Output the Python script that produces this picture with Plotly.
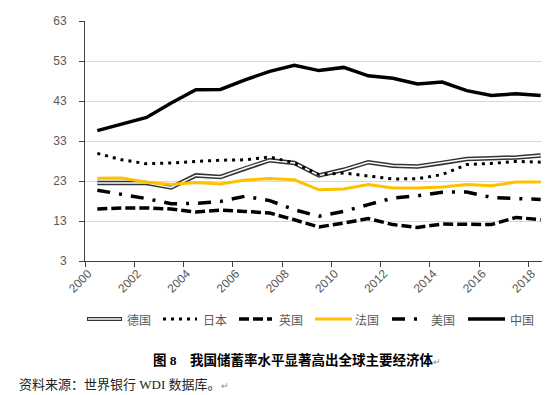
import plotly.graph_objects as go

years = list(range(2000, 2019))
germany = [22.5, 22.5, 22.5, 21.4, 24.4, 24.0, 26.2, 28.2, 27.5, 24.4, 25.8, 27.7, 26.8, 26.6, 27.5, 28.5, 28.7, 28.9, 29.4]
japan = [29.9, 28.3, 27.3, 27.5, 27.9, 28.2, 28.3, 29.0, 27.5, 24.6, 25.0, 24.2, 23.5, 23.6, 24.6, 27.1, 27.4, 27.9, 27.7]
uk = [16.0, 16.25, 16.25, 16.0, 15.25, 15.7, 15.4, 15.0, 13.3, 11.5, 12.5, 13.6, 12.1, 11.4, 12.25, 12.25, 12.1, 13.9, 13.3]
france = [23.7, 23.75, 22.7, 22.1, 22.6, 22.25, 23.25, 23.6, 23.3, 20.8, 21.0, 22.1, 21.25, 21.25, 21.5, 22.1, 21.8, 22.75, 22.75]
usa = [20.7, 19.75, 18.6, 17.3, 17.4, 17.9, 19.2, 18.1, 15.8, 14.2, 15.4, 17.1, 18.75, 19.3, 20.2, 20.25, 18.9, 18.6, 18.4]
china = [35.6, 37.25, 38.9, 42.5, 45.8, 45.9, 48.3, 50.4, 51.9, 50.6, 51.4, 49.3, 48.7, 47.25, 47.75, 45.6, 44.4, 44.8, 44.4]
names = ["德国", "日本", "英国", "法国", "美国", "中国"]
y_ticks = [3, 13, 23, 33, 43, 53, 63]
x_ticks = list(range(2000, 2019, 2))

W, H = 550, 395
L, R, T, B = 77, 545, 13, 253

GRAY = "#595959"
FONT = "Noto Sans CJK SC"
SERIF = "Liberation Serif, Noto Sans CJK SC"

styles = {
    "日本": dict(color="black", width=3, dash="3px,5px"),
    "英国": dict(color="black", width=3.5, dash="10px,4px"),
    "法国": dict(color="#FFC000", width=3, dash="solid"),
    "美国": dict(color="black", width=3.5, dash="13px,9px,3px,9px"),
    "中国": dict(color="black", width=3.5, dash="solid"),
}
series = {"德国": germany, "日本": japan, "英国": uk, "法国": france, "美国": usa, "中国": china}

fig = go.Figure()
# Germany double line
fig.add_trace(go.Scatter(x=years, y=germany, mode="lines", line=dict(color="#333333", width=4.5), showlegend=False, hoverinfo="skip"))
fig.add_trace(go.Scatter(x=years, y=germany, mode="lines", line=dict(color="white", width=1.5), showlegend=False, hoverinfo="skip"))
for n in ["日本", "英国", "法国", "美国", "中国"]:
    fig.add_trace(go.Scatter(x=years, y=series[n], mode="lines", line=styles[n], showlegend=False, name=n))

def px_x(p):
    return (p - L) / (R - L)

def px_y(p):
    return (B - p) / (B - T)

shapes = []
annotations = []
legend_pos = [(79, 114, 117), (155, 189, 193), (231, 264, 269), (307, 344, 345), (384, 410, 421), (460, 497, 500)]
ly = 311
for n, (x0, x1, tx) in zip(names, legend_pos):
    if n == "德国":
        shapes.append(dict(type="line", xref="paper", yref="paper", x0=px_x(x0), x1=px_x(x1), y0=px_y(ly), y1=px_y(ly), line=dict(color="#333333", width=4)))
        shapes.append(dict(type="line", xref="paper", yref="paper", x0=px_x(x0 + 1), x1=px_x(x1 - 1), y0=px_y(ly), y1=px_y(ly), line=dict(color="white", width=1.3)))
    else:
        shapes.append(dict(type="line", xref="paper", yref="paper", x0=px_x(x0), x1=px_x(x1), y0=px_y(ly), y1=px_y(ly), line=styles[n]))
    annotations.append(dict(text=n, xref="paper", yref="paper", x=px_x(tx), y=px_y(ly), xanchor="left", yanchor="middle", showarrow=False, font=dict(family=FONT, size=12, color=GRAY)))

annotations.append(dict(text="<b>图 8    我国储蓄率水平显著高出全球主要经济体</b><span style='font-size:9px;color:#888'>↵</span>",
                        xref="paper", yref="paper", x=px_x(143), y=px_y(352), xanchor="left", yanchor="middle", showarrow=False,
                        font=dict(family=SERIF, size=13.5, color="black")))
annotations.append(dict(text="资料来源：世界银行 WDI 数据库。<span style='font-size:9px;color:#888'>↵</span>",
                        xref="paper", yref="paper", x=px_x(9), y=px_y(376), xanchor="left", yanchor="middle", showarrow=False,
                        font=dict(family=SERIF, size=13, color="#222222")))

fig.update_layout(
    width=W, height=H,
    margin=dict(l=L, r=W - R, t=T, b=H - B),
    paper_bgcolor="white", plot_bgcolor="white",
    shapes=shapes, annotations=annotations,
    showlegend=False,
    xaxis=dict(range=[1999.5, 2018.5], tickvals=x_ticks, ticktext=[str(v) for v in x_ticks],
               tickangle=-45, ticks="", showgrid=False, zeroline=False,
               showline=True, linecolor="#404040", linewidth=1,
               ticklabelshift=-9,
               tickfont=dict(family="Liberation Sans", size=12, color=GRAY),
               minor=dict(tickvals=[v - 0.5 for v in x_ticks] + [2018.5], ticks="outside", ticklen=5, tickcolor="#404040", showgrid=False)),
    yaxis=dict(range=[3, 63], tickvals=y_ticks, showgrid=True, gridcolor="#d9d9d9", gridwidth=1, zeroline=False,
               showline=True, linecolor="#404040", linewidth=1, ticks="outside", ticklen=5, tickcolor="#404040",
               ticklabelstandoff=10,
               tickfont=dict(family="Liberation Sans", size=12, color=GRAY)),
)

fig.write_html("out.html")
